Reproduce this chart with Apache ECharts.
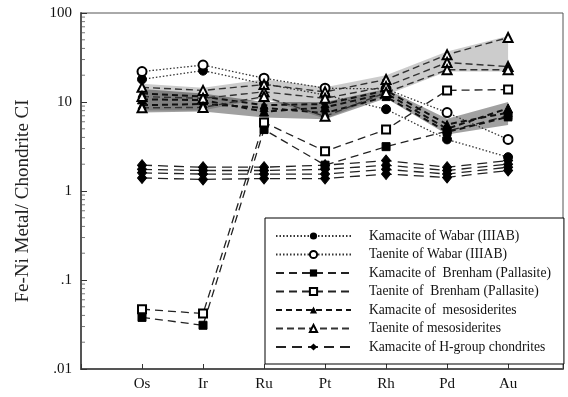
<!DOCTYPE html>
<html>
<head>
<meta charset="utf-8">
<script src="https://cdn.jsdelivr.net/npm/echarts@6/dist/echarts.min.js"></script>
<style>
  html, body { margin: 0; padding: 0; background: #fff; }
  #chart { width: 568px; height: 397px; }
</style>
</head>
<body>
<div id="chart"></div>
<script>
var categories = ['Os', 'Ir', 'Ru', 'Pt', 'Rh', 'Pd', 'Au'];
var yTickValues = [0.01, 0.1, 1, 10, 100];
var yTickLabels = ['.01', '.1', '1', '10', '100'];
var minorTickValues = [0.02, 0.03, 0.04, 0.05, 0.06, 0.07, 0.08, 0.09,
                       0.2, 0.3, 0.4, 0.5, 0.6, 0.7, 0.8, 0.9,
                       2, 3, 4, 5, 6, 7, 8, 9,
                       20, 30, 40, 50, 60, 70, 80, 90];

// Wabar (IIIAB)
var kamaciteWabar = [18, 22.5, 16, 12, 8.3, 3.8, 2.4];
var taeniteWabar = [22, 26, 18.5, 14.3, 14, 7.6, 3.8];
// Brenham (Pallasite)
var kamaciteBrenham = [0.038, 0.031, 4.9, 1.95, 3.15, 4.7, 7];
var taeniteBrenham = [0.047, 0.042, 5.9, 2.8, 4.9, 13.5, 13.8];
// mesosiderites
var kamaciteMeso1 = [10.7, 10.5, 7.8, 8.7, 12.5, 5.0, 8.5];
var kamaciteMeso2 = [12.5, 11.5, 9.2, 9.5, 13.5, 5.6, 7.6];
var kamaciteMeso3 = [9.2, 9.5, 8.6, 7.5, 11.5, 4.6, 6.8];
var taeniteMeso1 = [14.6, 13.5, 15.7, 13, 17.9, 34, 53];
var taeniteMeso2 = [11.5, 11, 13, 11, 14.9, 27.8, 25];
var taeniteMeso3 = [8.6, 8.7, 11.5, 6.9, 12.8, 23, 23];
// H-group chondrites
var hChondrite1 = [1.95, 1.85, 1.85, 1.95, 2.2, 1.85, 2.2];
var hChondrite2 = [1.75, 1.7, 1.7, 1.75, 1.95, 1.7, 2.0];
var hChondrite3 = [1.6, 1.55, 1.55, 1.55, 1.75, 1.55, 1.85];
var hChondrite4 = [1.4, 1.35, 1.38, 1.38, 1.55, 1.42, 1.7];

// grey ranges
var taeniteBandHi = [16, 14.5, 18, 14.6, 20, 37, 55];
var taeniteBandLo = [8, 8, 11, 6.5, 12, 22, 22];
var kamaciteBandHi = [14, 12.5, 10, 10, 14, 6.5, 10];
var kamaciteBandLo = [7.6, 7.8, 6.7, 6.4, 11, 4.3, 5.5];

var names = [
  'Kamacite of Wabar (IIIAB)',
  'Taenite of Wabar (IIIAB)',
  'Kamacite of  Brenham (Pallasite)',
  'Taenite of  Brenham (Pallasite)',
  'Kamacite of  mesosiderites',
  'Taenite of mesosiderites',
  'Kamacite of H-group chondrites'
];

function pairs(vals) {
  return vals.map(function (v, i) { return [i + 1, v]; });
}

function line(name, vals, symbol, size, lineStyle) {
  return {
    name: name,
    type: 'line',
    data: pairs(vals),
    symbol: symbol,
    symbolSize: size,
    lineStyle: lineStyle,
    itemStyle: { color: '#000', borderColor: '#000' },
    z: 3,
    animation: false
  };
}

var dotted = { color: '#333', width: 1.3, type: [1.5, 2] };
var brenDash = { color: '#222', width: 1.3, type: [8, 5] };
var kMesoDash = { color: '#111', width: 2, type: [6, 4] };
var tMesoDash = { color: '#333', width: 1.4, type: [7, 4] };
var hDash = { color: '#222', width: 1.3, type: [10, 6] };

var bands = [
  { hi: taeniteBandHi, lo: taeniteBandLo, fill: 'rgba(0,0,0,0.2)' },
  { hi: kamaciteBandHi, lo: kamaciteBandLo, fill: 'rgba(0,0,0,0.37)' }
];

var myChart = echarts.init(document.getElementById('chart'));
var option = {
  animation: false,
  textStyle: { fontFamily: 'Liberation Serif', color: '#000' },
  grid: { left: 81, right: 5, top: 13, bottom: 28, show: true, borderColor: '#555', borderWidth: 1 },
  legend: {
    data: names,
    orient: 'vertical',
    left: 265,
    top: 218,
    padding: [11, 13, 10, 10],
    itemWidth: 75,
    itemHeight: 9,
    itemGap: 4.5,
    borderColor: '#000',
    borderWidth: 1,
    borderRadius: 0,
    backgroundColor: '#fff',
    textStyle: { fontFamily: 'Liberation Serif', fontSize: 13.6, color: '#111', padding: [0, 0, 0, 13] }
  },
  xAxis: {
    type: 'value',
    min: 0,
    max: 7.9,
    interval: 1,
    axisLine: { lineStyle: { color: '#555', width: 2 } },
    axisTick: { inside: true, length: 5, lineStyle: { color: '#333' } },
    splitLine: { show: false },
    axisLabel: {
      fontSize: 15,
      color: '#111',
      margin: 8,
      formatter: function (v) { return categories[v - 1] || ''; }
    }
  },
  yAxis: {
    type: 'log',
    logBase: 10,
    min: 0.01,
    max: 100,
    name: 'Fe-Ni Metal/ Chondrite CI',
    nameLocation: 'middle',
    nameGap: 48,
    nameTextStyle: { fontSize: 19, color: '#222', fontFamily: 'Liberation Serif', padding: [0, 20, 0, 0] },
    axisLine: { lineStyle: { color: '#555', width: 2 } },
    axisTick: { inside: true, length: 6, lineStyle: { color: '#333' } },
    splitLine: { show: false },
    axisLabel: {
      fontSize: 15,
      color: '#111',
      margin: 9,
      formatter: function (v) {
        var i = yTickValues.indexOf(v);
        return i >= 0 ? yTickLabels[i] : '';
      }
    }
  },
  series: [
    {
      name: 'ranges',
      type: 'custom',
      silent: true,
      z: 1,
      clip: true,
      data: bands.map(function (b) { return [1, b.hi[0]]; }),
      renderItem: function (params, api) {
        var b = bands[params.dataIndex];
        var pts = [];
        var i;
        for (i = 0; i < b.hi.length; i++) pts.push(api.coord([i + 1, b.hi[i]]));
        for (i = b.lo.length - 1; i >= 0; i--) pts.push(api.coord([i + 1, b.lo[i]]));
        return { type: 'polygon', shape: { points: pts }, style: { fill: b.fill } };
      }
    },
    {
      // minor ticks on the log axis
      name: 'minor',
      type: 'scatter',
      silent: true,
      clip: false,
      z: 4,
      data: minorTickValues.map(function (v) { return [0, v]; }),
      symbol: 'rect',
      symbolSize: [3, 1],
      symbolOffset: [2.5, 0],
      itemStyle: { color: '#555' }
    },
    line(names[0], kamaciteWabar, 'circle', 9, dotted),
    line(names[1], taeniteWabar, 'emptyCircle', 9, dotted),
    line(names[2], kamaciteBrenham, 'rect', 8, brenDash),
    line(names[3], taeniteBrenham, 'emptyRect', 8, brenDash),
    line(names[4], kamaciteMeso1, 'triangle', 9, kMesoDash),
    line(names[4], kamaciteMeso2, 'triangle', 8, kMesoDash),
    line(names[4], kamaciteMeso3, 'triangle', 8, kMesoDash),
    line(names[5], taeniteMeso1, 'emptyTriangle', 9, tMesoDash),
    line(names[5], taeniteMeso2, 'emptyTriangle', 9, tMesoDash),
    line(names[5], taeniteMeso3, 'emptyTriangle', 9, tMesoDash),
    line(names[6], hChondrite1, 'diamond', [9, 11], hDash),
    line(names[6], hChondrite2, 'diamond', [9, 11], hDash),
    line(names[6], hChondrite3, 'diamond', [9, 11], hDash),
    line(names[6], hChondrite4, 'diamond', [9, 11], hDash)
  ]
};
myChart.setOption(option);
</script>
</body>
</html>
